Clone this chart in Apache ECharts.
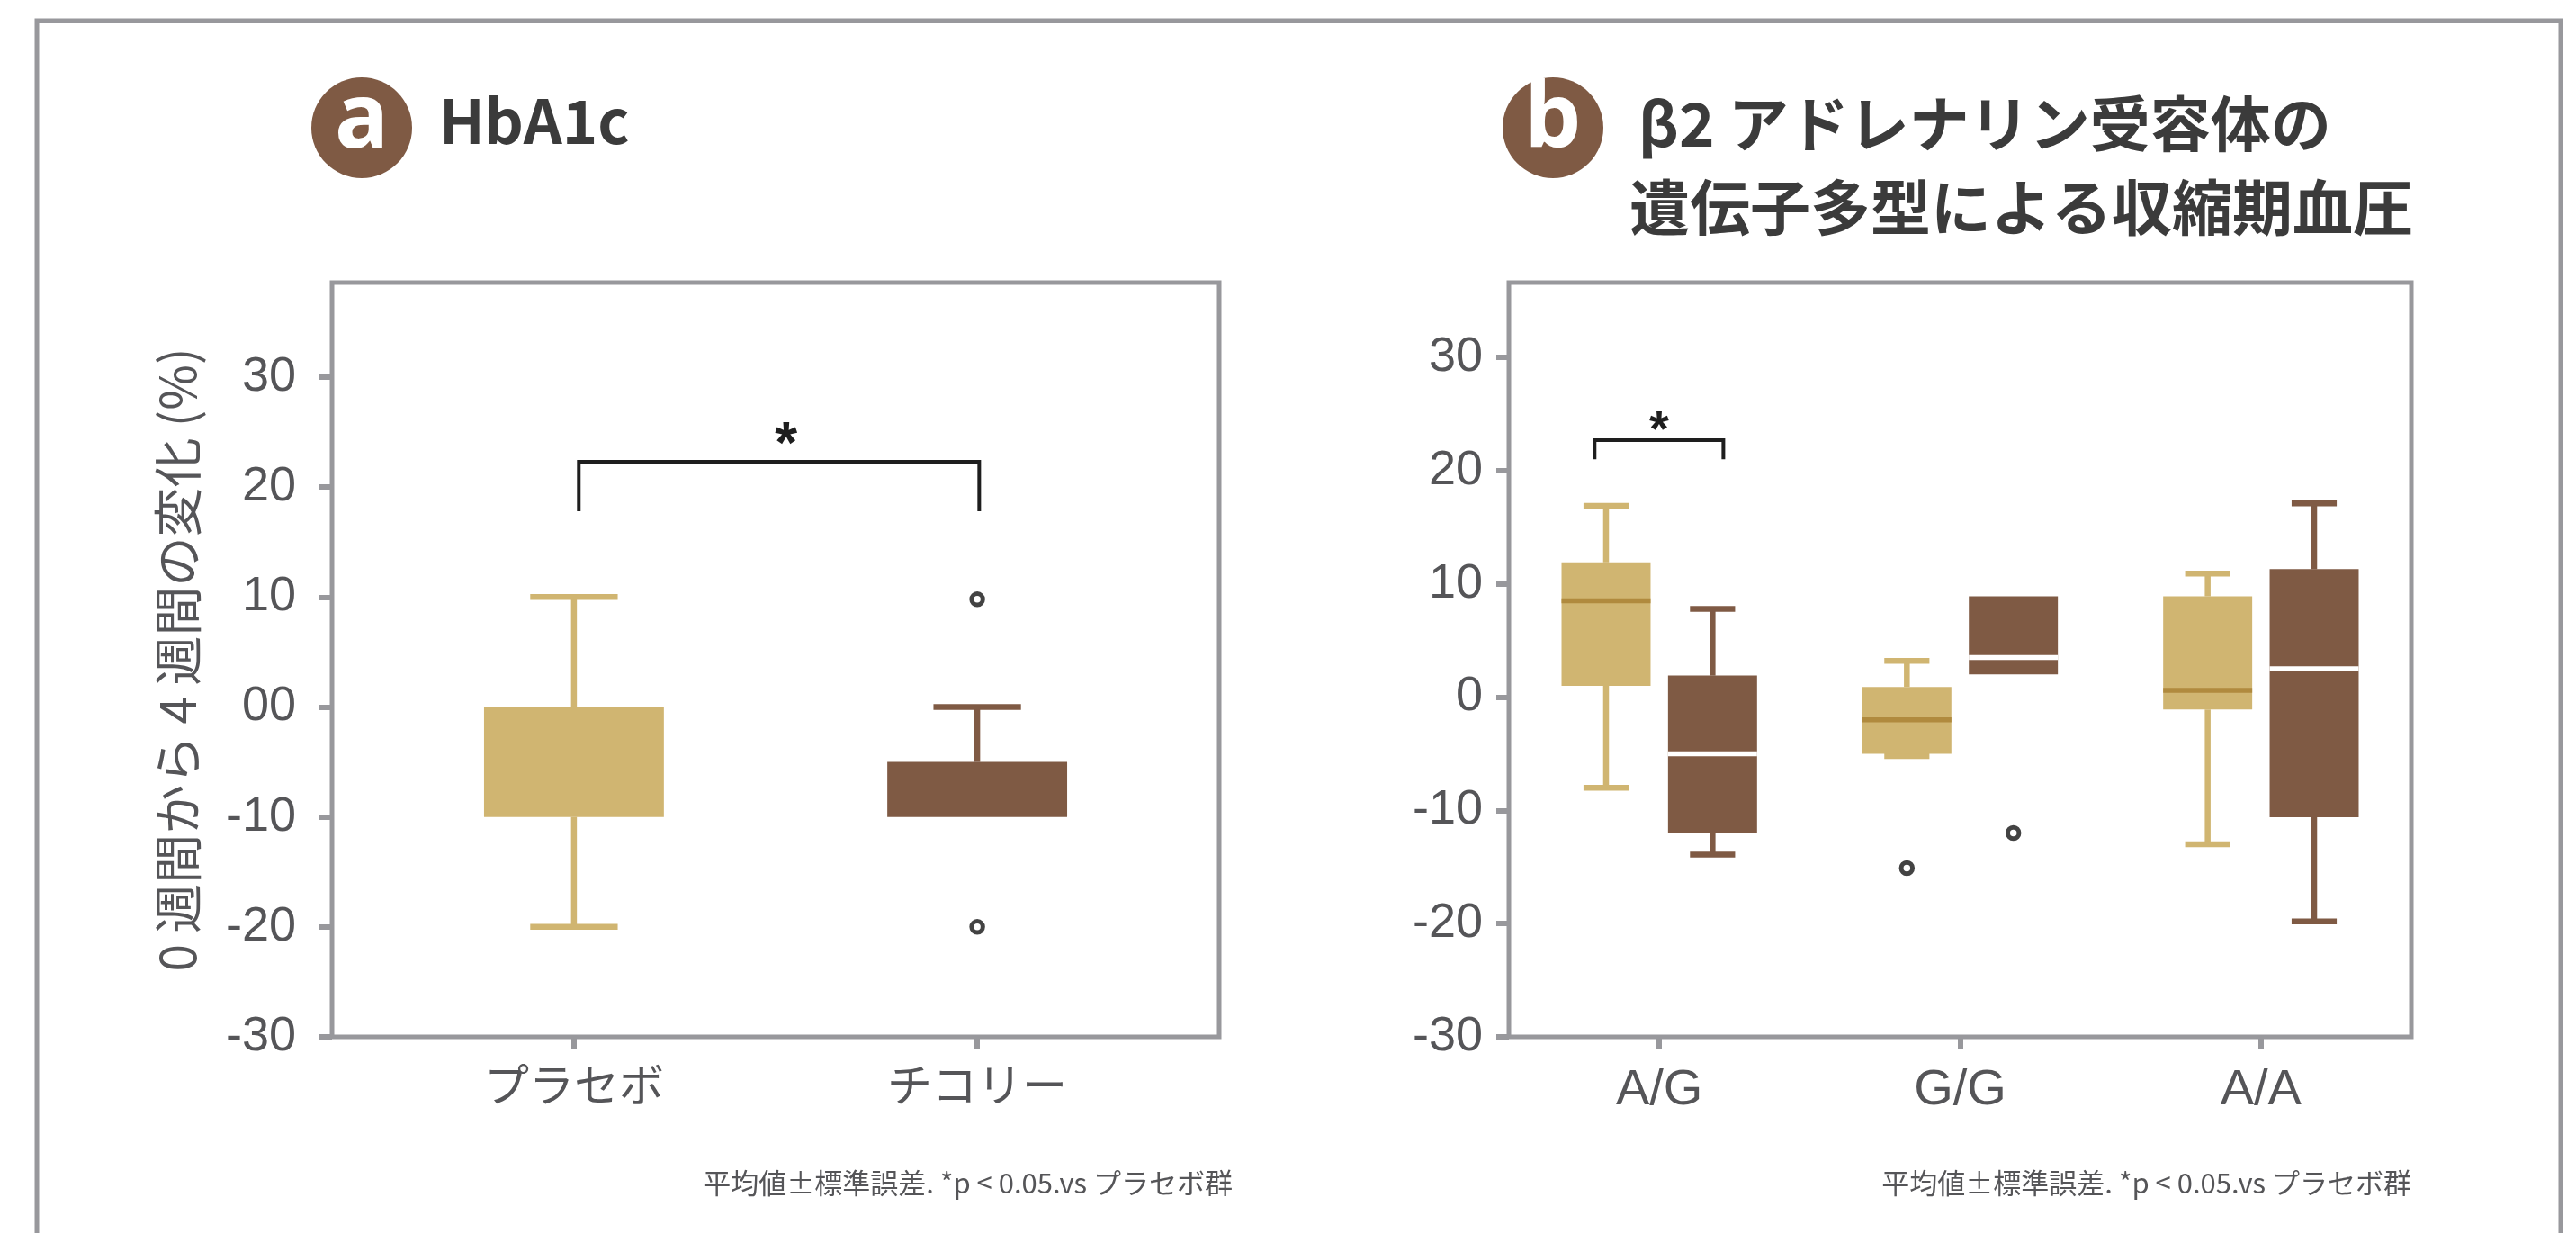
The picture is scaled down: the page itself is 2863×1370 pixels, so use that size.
<!DOCTYPE html>
<html>
<head>
<meta charset="utf-8">
<script src="https://cdn.jsdelivr.net/npm/echarts@6/dist/echarts.min.js"></script>
<style>
  html, body { margin: 0; padding: 0; background: #fff; }
  #chart { width: 2863px; height: 1370px; }
</style>
</head>
<body>
<div id="chart"></div>
<script>
// panel a: HbA1c (low, q1, median, q3, high)
const catA = ['プラセボ', 'チコリー'];
const yTicksA = [-30, -20, -10, 0, 10, 20, 30];
const placeboA = [[0, -20, -10, null, 0, 10]];
const chicoryA = [[1, -10, -10, null, -5, 0]];
const outliersA = [[1, 9.8], [1, -20]];
const bracketA = [[0.012, 1.005, 22.3, 17.8]];

// panel b: β2 adrenergic receptor genotype
const catB = ['A/G', 'G/G', 'A/A'];
const yTicksB = [-30, -20, -10, 0, 10, 20, 30];
const placeboB = [
  [0, -8.0, 1.0, 8.5, 11.9, 16.9],
  [1, -5.2, -5.0, -2.0, 0.9, 3.2],
  [2, -13.0, -1.1, 0.6, 8.9, 10.9]
];
const chicoryB = [
  [0, -13.9, -12.0, -5.0, 1.9, 7.8],
  [1, 2.0, 2.0, 3.5, 8.9, 8.9],
  [2, -19.8, -10.6, 2.5, 11.3, 17.1]
];
const outPlaceboB = [[1, -15.1]];
const outChicoryB = [[1, -12.0]];
const bracketB = [[-0.215, 0.213, 22.7, 21.0]];

const TAN = '#d0b571';
const TAN_MED = '#b08a3e';
const BROWN = '#7f5a44';
const GRAY = '#98989c';
const LABEL = '#555558';
const SHIFT_B = 0.177;

function boxRender(fill, medColor, shift, boxW, capW) {
  return function (params, api) {
    const x = api.value(0) + shift;
    const low = api.value(1), q1 = api.value(2), med = api.value(3), q3 = api.value(4), high = api.value(5);
    const half = api.size([boxW, 0])[0] / 2;
    const capHalf = api.size([capW, 0])[0] / 2;
    const top = api.coord([x, q3]);
    const bot = api.coord([x, q1]);
    const cx = top[0];
    const kids = [];
    const seg = (x1, y1, x2, y2, w, c) => ({
      type: 'line', shape: { x1: x1, y1: y1, x2: x2, y2: y2 }, style: { stroke: c, lineWidth: w }
    });
    if (high > q3) {
      const h = api.coord([x, high])[1];
      kids.push(seg(cx, h, cx, top[1], 6.5, fill));
      kids.push(seg(cx - capHalf, h, cx + capHalf, h, 6.5, fill));
    }
    if (low < q1) {
      const l = api.coord([x, low])[1];
      kids.push(seg(cx, bot[1], cx, l, 6.5, fill));
      kids.push(seg(cx - capHalf, l, cx + capHalf, l, 6.5, fill));
    }
    kids.push({ type: 'rect', shape: { x: cx - half, y: top[1], width: half * 2, height: bot[1] - top[1] }, style: { fill: fill } });
    if (!isNaN(med)) {
      const m = api.coord([x, med])[1];
      kids.push(seg(cx - half, m, cx + half, m, 5.5, medColor));
    }
    return { type: 'group', children: kids };
  };
}

function bracketRender(starSize, starGap, starShift) {
  return function (params, api) {
    const p1 = api.coord([api.value(0), api.value(2)]);
    const p2 = api.coord([api.value(1), api.value(2)]);
    const leg = api.coord([api.value(0), api.value(3)])[1];
    return {
      type: 'group',
      children: [
        { type: 'polyline', shape: { points: [[p1[0], leg], [p1[0], p1[1]], [p2[0], p1[1]], [p2[0], leg]] },
          style: { stroke: '#1e1e1e', lineWidth: 4, fill: 'none' } },
        { type: 'text', x: (p1[0] + p2[0]) / 2 + starShift, y: p1[1] - starGap,
          style: { text: '*', fill: '#1e1e1e', font: 'bold ' + starSize + 'px "Liberation Sans"', align: 'center', verticalAlign: 'middle' } }
      ]
    };
  };
}

const myChart = echarts.init(document.getElementById('chart'));
const option = {
  animation: false,
  backgroundColor: '#fff',
  grid: [
    { left: 369, top: 314, width: 986, height: 838, show: true, borderColor: GRAY, borderWidth: 5, backgroundColor: 'transparent' },
    { left: 1677, top: 314, width: 1003, height: 838, show: true, borderColor: GRAY, borderWidth: 5, backgroundColor: 'transparent' }
  ],
  xAxis: [
    {
      gridIndex: 0, type: 'value', min: -0.6, max: 1.6,
      axisLine: { show: false, onZero: false },
      splitLine: { show: false },
      axisTick: { customValues: [0, 1], length: 14, lineStyle: { color: GRAY, width: 6 } },
      axisLabel: {
        customValues: [0, 1], margin: 28, color: LABEL, fontSize: 50, fontFamily: 'Noto Sans CJK JP',
        formatter: function (v) { return catA[Math.round(v)]; }
      }
    },
    {
      gridIndex: 1, type: 'value', min: -0.5, max: 2.5,
      axisLine: { show: false, onZero: false },
      splitLine: { show: false },
      axisTick: { customValues: [0, 1, 2], length: 14, lineStyle: { color: GRAY, width: 6 } },
      axisLabel: {
        customValues: [0, 1, 2], margin: 32, color: LABEL, fontSize: 56, fontFamily: 'Liberation Sans',
        formatter: function (v) { return catB[Math.round(v)]; }
      }
    }
  ],
  yAxis: [
    {
      gridIndex: 0, type: 'value', min: -30, max: 38.6,
      axisLine: { show: false, onZero: false },
      splitLine: { show: false },
      axisTick: { customValues: yTicksA, length: 14, lineStyle: { color: GRAY, width: 6 } },
      axisLabel: {
        customValues: yTicksA, margin: 40, color: LABEL, fontSize: 54, fontFamily: 'Liberation Sans',
        formatter: function (v) { return v === 0 ? '00' : String(v); }
      },
      name: '0 週間から 4 週間の変化 (%)',
      nameLocation: 'middle', nameGap: 144,
      nameTextStyle: { color: LABEL, fontSize: 55, fontFamily: 'Noto Sans CJK JP' }
    },
    {
      gridIndex: 1, type: 'value', min: -30, max: 36.6,
      axisLine: { show: false, onZero: false },
      splitLine: { show: false },
      axisTick: { customValues: yTicksB, length: 14, lineStyle: { color: GRAY, width: 6 } },
      axisLabel: { customValues: yTicksB, margin: 29, color: LABEL, fontSize: 54, fontFamily: 'Liberation Sans' }
    }
  ],
  series: [
    { type: 'custom', xAxisIndex: 0, yAxisIndex: 0, renderItem: boxRender(TAN, TAN_MED, 0, 0.446, 0.217), data: placeboA },
    { type: 'custom', xAxisIndex: 0, yAxisIndex: 0, renderItem: boxRender(BROWN, '#fff', 0, 0.446, 0.217), data: chicoryA },
    {
      type: 'scatter', xAxisIndex: 0, yAxisIndex: 0, data: outliersA,
      symbol: 'circle', symbolSize: 12.5,
      itemStyle: { color: '#fff', borderColor: '#141414', borderWidth: 5 }
    },
    { type: 'custom', xAxisIndex: 0, yAxisIndex: 0, renderItem: bracketRender(64, 17, 8), data: bracketA },

    { type: 'custom', xAxisIndex: 1, yAxisIndex: 1, renderItem: boxRender(TAN, TAN_MED, -SHIFT_B, 0.296, 0.15), data: placeboB },
    { type: 'custom', xAxisIndex: 1, yAxisIndex: 1, renderItem: boxRender(BROWN, '#fff', SHIFT_B, 0.296, 0.15), data: chicoryB },
    {
      type: 'scatter', xAxisIndex: 1, yAxisIndex: 1,
      data: outPlaceboB.map(d => [d[0] - SHIFT_B, d[1]]).concat(outChicoryB.map(d => [d[0] + SHIFT_B, d[1]])),
      symbol: 'circle', symbolSize: 12.5,
      itemStyle: { color: '#fff', borderColor: '#141414', borderWidth: 5 }
    },
    { type: 'custom', xAxisIndex: 1, yAxisIndex: 1, renderItem: bracketRender(56, 9, 0), data: bracketB }
  ],
  graphic: [
    { type: 'rect', silent: true, shape: { x: 41, y: 23, width: 2805, height: 1420 }, style: { fill: 'none', stroke: GRAY, lineWidth: 5 } },
    { type: 'circle', silent: true, shape: { cx: 402, cy: 142, r: 56 }, style: { fill: BROWN } },
    { type: 'text', silent: true, x: 402, y: 136, style: { text: 'a', fill: '#fff', font: 'bold 100px "Noto Sans"', align: 'center', verticalAlign: 'middle' } },
    { type: 'text', silent: true, x: 488, y: 135, style: { text: 'HbA1c', fill: '#3b3b3b', font: 'bold 67px "Noto Sans CJK JP"', align: 'left', verticalAlign: 'middle' } },
    { type: 'circle', silent: true, shape: { cx: 1726, cy: 142, r: 56 }, style: { fill: BROWN } },
    { type: 'text', silent: true, x: 1726, y: 136, style: { text: 'b', fill: '#fff', font: 'bold 100px "Noto Sans"', align: 'center', verticalAlign: 'middle' } },
    { type: 'text', silent: true, x: 1821, y: 138, style: { text: 'β2 アドレナリン受容体の', fill: '#3b3b3b', font: 'bold 67px "Noto Sans CJK JP"', align: 'left', verticalAlign: 'middle' } },
    { type: 'text', silent: true, x: 1811, y: 231, style: { text: '遺伝子多型による収縮期血圧', fill: '#3b3b3b', font: 'bold 67px "Noto Sans CJK JP"', align: 'left', verticalAlign: 'middle' } },
    { type: 'text', silent: true, x: 1370, y: 1314, style: { text: '平均値±標準誤差. *p < 0.05.vs プラセボ群', fill: LABEL, font: '31px "Noto Sans CJK JP"', align: 'right', verticalAlign: 'middle' } },
    { type: 'text', silent: true, x: 2680, y: 1314, style: { text: '平均値±標準誤差. *p < 0.05.vs プラセボ群', fill: LABEL, font: '31px "Noto Sans CJK JP"', align: 'right', verticalAlign: 'middle' } }
  ]
};
myChart.setOption(option);
window.addEventListener('resize', function () { myChart.resize(); });
</script>
</body>
</html>
